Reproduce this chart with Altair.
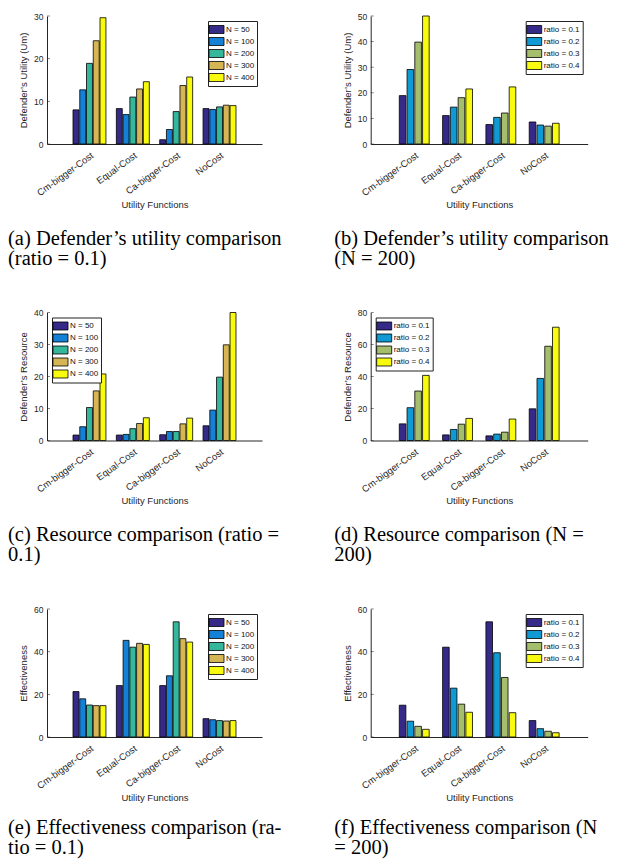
import altair as alt
import pandas as pd

funcs = ["Cm-bigger-Cost", "Equal-Cost", "Ca-bigger-Cost", "NoCost"]
n_labels = ["N = 50", "N = 100", "N = 200", "N = 300", "N = 400"]
ratio_labels = ["ratio = 0.1", "ratio = 0.2", "ratio = 0.3", "ratio = 0.4"]

n_colors = ["#352a87", "#1481d6", "#35b79c", "#d6b654", "#f9fb0e"]
ratio_colors = ["#352a87", "#0f9ad3", "#a5be6b", "#f9fb0e"]

# (a) Defender's utility, ratio = 0.1 ; rows = functions, cols = N
util_n = [
    [8.0, 12.7, 18.9, 24.2, 29.6],
    [8.3, 6.9, 11.0, 12.9, 14.6],
    [1.0, 3.4, 7.6, 13.7, 15.7],
    [8.3, 8.1, 8.7, 9.1, 9.0],
]
# (b) Defender's utility, N = 200 ; cols = ratio
util_r = [
    [18.9, 29.1, 39.8, 50.0],
    [11.1, 14.4, 18.1, 21.5],
    [7.6, 10.4, 12.1, 22.3],
    [8.6, 7.4, 7.0, 8.1],
]
# (c) Resource, ratio = 0.1
res_n = [
    [1.7, 4.3, 10.3, 15.5, 20.8],
    [1.7, 1.9, 3.7, 5.3, 7.1],
    [1.8, 2.8, 2.8, 5.2, 7.0],
    [4.6, 9.5, 19.8, 29.9, 40.0],
]
# (d) Resource, N = 200
res_r = [
    [10.4, 20.5, 30.9, 40.7],
    [3.5, 6.9, 10.2, 13.8],
    [2.9, 4.0, 5.2, 13.4],
    [19.8, 38.8, 58.9, 70.8],
]
# (e) Effectiveness, ratio = 0.1
eff_n = [
    [21.3, 17.9, 15.0, 14.7, 14.7],
    [24.1, 45.3, 42.1, 43.9, 43.4],
    [24.1, 28.7, 54.0, 46.1, 44.5],
    [8.6, 8.1, 7.7, 7.5, 7.7],
]
# (f) Effectiveness, N = 200
eff_r = [
    [14.9, 7.4, 5.0, 3.6],
    [42.1, 22.9, 15.4, 11.6],
    [54.0, 39.5, 27.9, 11.4],
    [7.7, 3.9, 2.7, 2.0],
]

ticks_a = [0, 10, 20, 30]
ticks_b = [0, 10, 20, 30, 40, 50]
ticks_c = [0, 10, 20, 30, 40]
ticks_d = [0, 20, 40, 60, 80]
ticks_e = [0, 20, 40, 60]
ticks_f = [0, 20, 40, 60]

captions = {
    "a": ["(a) Defender\u2019s utility comparison", "(ratio = 0.1)"],
    "b": ["(b) Defender\u2019s utility comparison", "(N = 200)"],
    "c": ["(c) Resource comparison (ratio =", "0.1)"],
    "d": ["(d) Resource comparison (N =", "200)"],
    "e": ["(e) Effectiveness comparison (ra-", "tio = 0.1)"],
    "f": ["(f) Effectiveness comparison (N", "= 200)"],
}

SYM = "M-1.364,-0.727H1.364V0.727H-1.364Z"


def panel(values, labels, colors, ticks, ytitle, legend_orient, caption, width, dx, cap_off):
    rows = []
    for fi, f in enumerate(funcs):
        for si, s in enumerate(labels):
            rows.append({"func": f, "series": s, "value": values[fi][si]})
    df = pd.DataFrame(rows)
    nser = len(labels)
    p_i = 0.24 if nser == 5 else 0.31
    p_o = 0.6 if nser == 5 else 0.66
    yaxis = alt.Axis(title=ytitle, values=ticks, labelPadding=4, titlePadding=5,
                     domain=True)
    yscale = alt.Scale(domain=[ticks[0], ticks[-1]], nice=False)
    bars = alt.Chart(df).mark_bar(stroke="black", strokeWidth=0.8).encode(
        x=alt.X("func:N", sort=funcs,
                scale=alt.Scale(paddingInner=p_i, paddingOuter=p_o),
                axis=alt.Axis(title="Utility Functions", labelAngle=324,
                              labelAlign="right", labelBaseline="top",
                              labelFontSize=9.5, labelPadding=6, titlePadding=2,
                              domain=True)),
        xOffset=alt.XOffset("series:N", sort=labels,
                            scale=alt.Scale(paddingInner=0.12 if nser == 5 else 0.15)),
        y=alt.Y("value:Q", scale=yscale, axis=yaxis),
        color=alt.Color("series:N", sort=labels,
                        scale=alt.Scale(domain=labels, range=colors),
                        legend=alt.Legend(title=None, orient=legend_orient, offset=5,
                                          fillColor="white", strokeColor="#222222",
                                          padding=2.5, symbolType=SYM, symbolSize=121,
                                          symbolStrokeColor="black", symbolStrokeWidth=0.8,
                                          symbolOpacity=1, labelFont="Liberation Sans",
                                          labelFontSize=8, labelOffset=3.5, rowPadding=0,
                                          labelColor="#111111")),
    )
    tick_df = pd.DataFrame({"value": ticks})
    tk = alt.Chart(tick_df).mark_tick(orient="horizontal", size=3, thickness=0.8,
                                      color="#262626").encode(
        y=alt.Y("value:Q", scale=yscale, axis=yaxis),
        x=alt.value(1.5),
    )
    return alt.layer(bars, tk).properties(
        width=width, height=128,
        title=alt.TitleParams(text=caption, orient="bottom", anchor="start",
                              frame="group", dx=dx, offset=cap_off,
                              font="Liberation Serif", fontSize=20.5,
                              fontWeight="normal", color="black", lineHeight=20),
    )


pa = panel(util_n, n_labels, n_colors, ticks_a, "Defender\u2019s Utility (Um)", "top-right", captions["a"], 215, -39, 20)
pb = panel(util_r, ratio_labels, ratio_colors, ticks_b, "Defender\u2019s Utility (Um)", "top-right", captions["b"], 217, -36.5, 20)
pc = panel(res_n, n_labels, n_colors, ticks_c, "Defender\u2019s Resource", "top-left", captions["c"], 215, -39, 20)
pd_ = panel(res_r, ratio_labels, ratio_colors, ticks_d, "Defender\u2019s Resource", "top-left", captions["d"], 217, -36.5, 20)
pe = panel(eff_n, n_labels, n_colors, ticks_e, "Effectiveness", "top-right", captions["e"], 215, -39, 16)
pf = panel(eff_r, ratio_labels, ratio_colors, ticks_f, "Effectiveness", "top-right", captions["f"], 217, -36.5, 16)

chart = alt.concat(pa, pb, pc, pd_, pe, pf, columns=2,
                   spacing=alt.RowColnumber(row=168.5, column=108.7),
                   bounds="flush").resolve_scale(
    color="independent", xOffset="independent", y="independent", x="independent"
).properties(
    padding={"left": 0, "top": 4, "right": 5, "bottom": 5}
).configure_view(stroke=None).configure_axis(
    labelFont="Liberation Sans", titleFont="Liberation Sans",
    labelFontSize=8.5, titleFontSize=9.5, titleFontWeight="normal",
    labelColor="#262626", titleColor="#262626", domainColor="#262626",
    domainWidth=1, ticks=False, grid=False,
).configure_legend(symbolType=SYM)

chart.save("out.html", embed_options={"renderer": "svg", "actions": False})
